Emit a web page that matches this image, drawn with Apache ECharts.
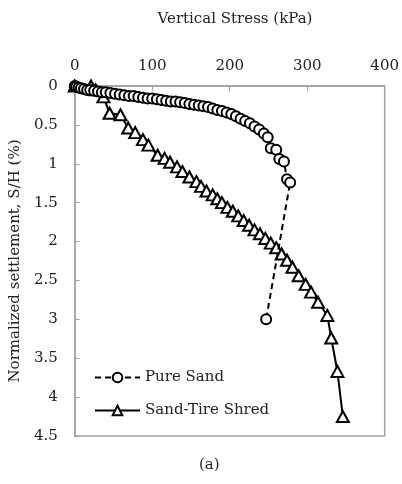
<!DOCTYPE html>
<html>
<head>
<meta charset="utf-8">
<script src="https://cdn.jsdelivr.net/npm/echarts@6/dist/echarts.min.js"></script>
<style>
  html, body { margin: 0; padding: 0; background: #fff; }
  #chart { width: 402px; height: 484px; }
</style>
</head>
<body>
<div id="chart"></div>
<script>
// Load–settlement curves: vertical stress (kPa) vs normalized settlement S/H (%)
const sandStress = [0, 2, 5, 8, 12, 16, 20, 25, 30, 35, 40, 46, 52, 58, 64, 70, 76, 82, 88, 94, 100, 106, 112, 118, 124, 130, 136, 142, 148, 154, 160, 166, 172, 178, 184, 190, 196, 202, 208, 214, 220, 226, 232, 238, 244, 249, 253, 260, 264, 270, 274, 278, 247];
const sandSettle = [0, 0.01, 0.02, 0.03, 0.04, 0.05, 0.05, 0.06, 0.07, 0.08, 0.08, 0.09, 0.10, 0.11, 0.12, 0.13, 0.13, 0.14, 0.15, 0.16, 0.16, 0.17, 0.18, 0.19, 0.20, 0.20, 0.21, 0.22, 0.23, 0.24, 0.25, 0.26, 0.27, 0.29, 0.31, 0.32, 0.34, 0.36, 0.39, 0.42, 0.45, 0.48, 0.52, 0.56, 0.61, 0.66, 0.80, 0.82, 0.94, 0.97, 1.20, 1.24, 3.0];

const shredStress = [0, 21, 27, 37, 45, 59, 69, 78, 88, 95, 107, 116, 123, 132, 139, 148, 157, 163, 170, 178, 184, 190, 197, 204, 211, 218, 225, 232, 239, 246, 253, 260, 267, 274, 281, 289, 298, 305, 314, 326, 331, 339, 346];
const shredSettle = [0, 0.0, 0.05, 0.14, 0.35, 0.37, 0.54, 0.60, 0.69, 0.76, 0.89, 0.93, 0.98, 1.04, 1.10, 1.17, 1.23, 1.29, 1.35, 1.40, 1.45, 1.50, 1.56, 1.61, 1.67, 1.73, 1.79, 1.85, 1.90, 1.96, 2.02, 2.08, 2.16, 2.24, 2.33, 2.44, 2.55, 2.65, 2.78, 2.95, 3.24, 3.67, 4.25];

const seriesNames = ['Pure Sand', 'Sand-Tire Shred'];
const xAxisTitle = 'Vertical Stress (kPa)';
const yAxisTitle = 'Normalized settlement, S/H (%)';
const panelLabel = '(a)';

const pairs = (xs, ys) => xs.map((x, i) => [x, ys[i]]);

const font = 'DejaVu Serif';
const axisGray = '#a0a0a0';

const chart = echarts.init(document.getElementById('chart'), null, { renderer: 'canvas' });
chart.setOption({
  animation: false,
  backgroundColor: '#fff',
  grid: {
    left: 74, top: 86, right: 15, bottom: 48,
    show: true, borderColor: axisGray, borderWidth: 1.5
  },
  title: {
    text: xAxisTitle,
    left: 230, top: 7, textAlign: 'center',
    textStyle: { fontFamily: font, fontSize: 15, fontWeight: 'normal', color: '#222' }
  },
  graphic: [{
    type: 'text', left: 199, top: 458,
    style: { text: panelLabel, font: '15px "DejaVu Serif"', fill: '#222' }
  }],
  legend: {
    left: 94, top: 370, orient: 'vertical', itemGap: 18, padding: 0,
    itemWidth: 45, itemHeight: 12,
    textStyle: { fontFamily: font, fontSize: 15, color: '#222' },
    data: seriesNames
  },
  xAxis: {
    type: 'value', position: 'top', min: 0, max: 400, interval: 100,
    axisLine: { show: true, lineStyle: { color: axisGray, width: 1.5 } },
    axisTick: { show: true, inside: true, length: 5, lineStyle: { color: axisGray } },
    splitLine: { show: false },
    axisLabel: { fontFamily: font, fontSize: 15, color: '#222', margin: 12 }
  },
  yAxis: {
    type: 'value', inverse: true, min: 0, max: 4.5, interval: 0.5,
    name: yAxisTitle, nameLocation: 'middle', nameGap: 46, nameRotate: 90,
    nameTextStyle: { fontFamily: font, fontSize: 15, color: '#222' },
    axisLine: { show: true, lineStyle: { color: axisGray, width: 1.5 } },
    axisTick: { show: true, inside: true, length: 5, lineStyle: { color: axisGray } },
    splitLine: { show: false },
    axisLabel: { fontFamily: font, fontSize: 15, color: '#222', margin: 17 }
  },
  series: [
    {
      name: seriesNames[0], type: 'line',
      data: pairs(sandStress, sandSettle),
      symbol: 'circle', symbolSize: 10, showAllSymbol: true,
      lineStyle: { color: '#000', width: 2, type: [6, 4] },
      itemStyle: { color: '#fff', borderColor: '#000', borderWidth: 2 },
      z: 3
    },
    {
      name: seriesNames[1], type: 'line',
      data: pairs(shredStress, shredSettle),
      symbol: 'triangle', symbolSize: [12, 11], showAllSymbol: true,
      lineStyle: { color: '#000', width: 2 },
      itemStyle: { color: '#fff', borderColor: '#000', borderWidth: 2 },
      z: 2
    }
  ]
});
</script>
</body>
</html>
